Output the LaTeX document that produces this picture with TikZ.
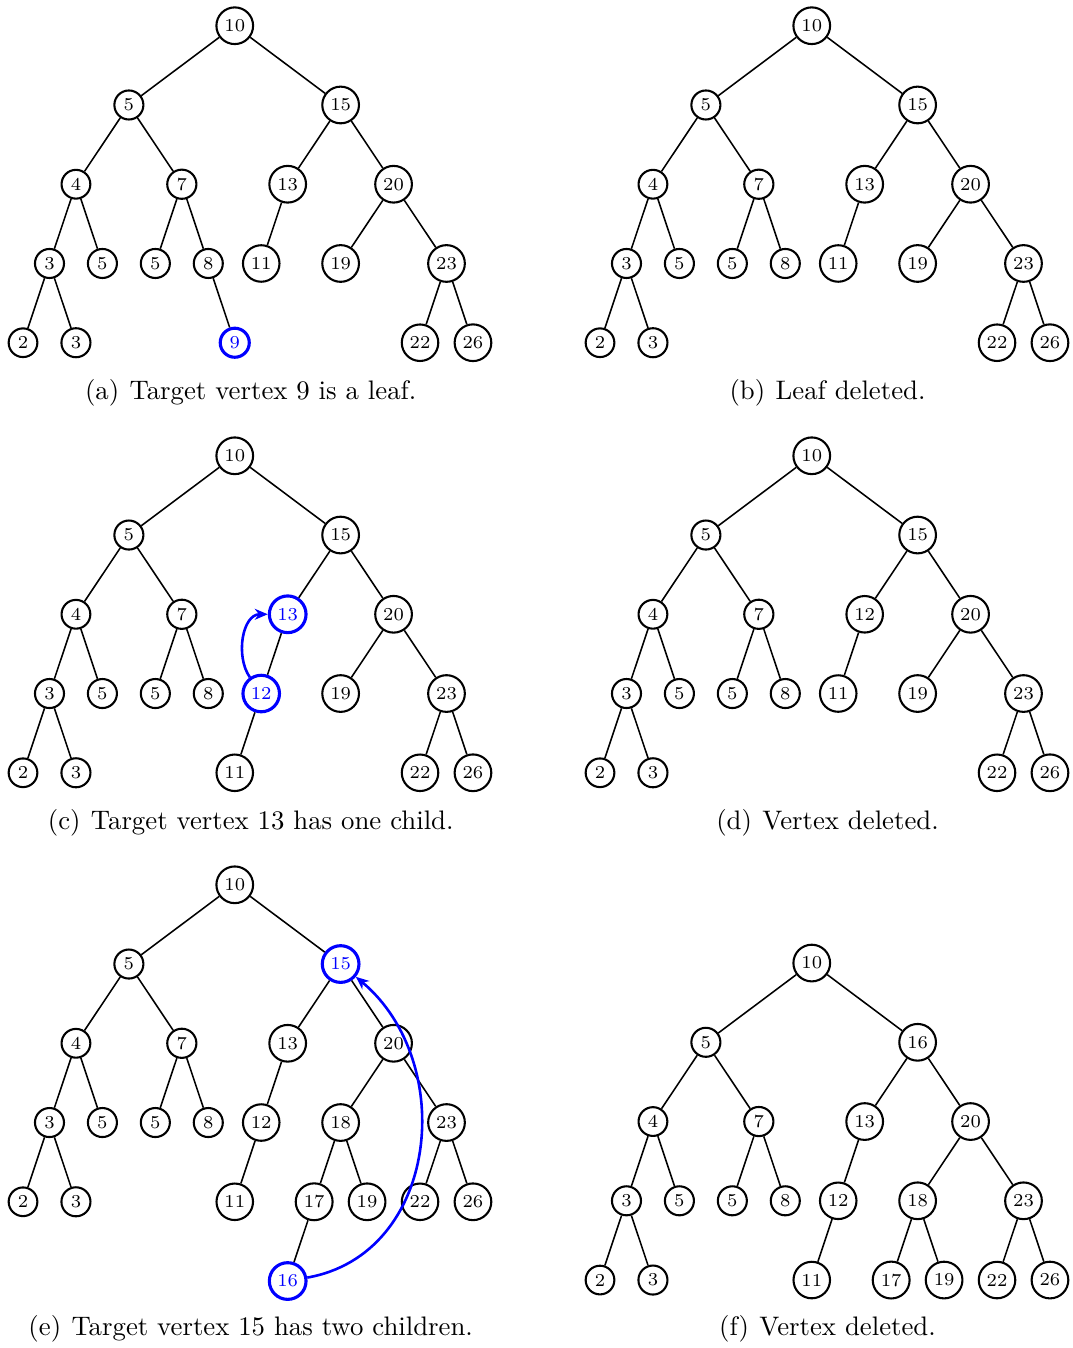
\documentclass[tikz,border=0pt]{standalone}
\usepackage{xcolor}
\usetikzlibrary{arrows.meta}

% root and left half, the same in every panel (#1 = name prefix)
\newcommand{\lefthalf}[1]{%
  \foreach \n/\c/\r/\t in {o/8/0/10, l/4/1/5, ll/2/2/4, lr/6/2/7, lll/1/3/3,
      llr/3/3/5, lrl/5/3/5, lrr/7/3/8, llll/0/4/2, lllr/2/4/3}
    \node[vtx] (#1\n) at (\c,-\r) {\t};
  \foreach \p/\n in {o/l, l/ll, l/lr, ll/lll, ll/llr, lr/lrl, lr/lrr, lll/llll, lll/lllr}
    \draw[link] (#1\p) -- (#1\n);
}

\begin{document}
\begin{tikzpicture}[
  vtx/.style={draw, circle, thick, inner sep=1.75pt, font=\scriptsize},
  hit/.style={vtx, draw=blue, text=blue, very thick},
  link/.style={semithick},
  move/.style={->, draw=blue, line width=1pt},
  capt/.style={anchor=base, font=\fontsize{10.3pt}{12pt}\selectfont},
  tree/.style={x=10.18pt, y=30.48pt},
  >={Stealth[length=5pt, width=4.2pt, inset=1.6pt]}
]
  \useasboundingbox (0,0) rectangle (412.31pt,-518.46pt);

  % (a) target is a leaf
  \begin{scope}[shift={(8.85pt,-9.9pt)}, tree]
    \lefthalf{a}
    \foreach \n/\c/\r/\t in {r/12/1/15, rl/10/2/13, rr/14/2/20, rll/9/3/11,
        rrl/12/3/19, rrr/16/3/23, rrrl/15/4/22, rrrr/17/4/26}
      \node[vtx] (a\n) at (\c,-\r) {\t};
    \node[hit] (alrrr) at (8,-4) {9};
    \foreach \p/\n in {o/r, r/rl, r/rr, rl/rll, rr/rrl, rr/rrr, rrr/rrrl, rrr/rrrr, lrr/lrrr}
      \draw[link] (a\p) -- (a\n);
  \end{scope}

  % (b) leaf removed
  \begin{scope}[shift={(230.77pt,-9.9pt)}, tree]
    \lefthalf{b}
    \foreach \n/\c/\r/\t in {r/12/1/15, rl/10/2/13, rr/14/2/20, rll/9/3/11,
        rrl/12/3/19, rrr/16/3/23, rrrl/15/4/22, rrrr/17/4/26}
      \node[vtx] (b\n) at (\c,-\r) {\t};
    \foreach \p/\n in {o/r, r/rl, r/rr, rl/rll, rr/rrl, rr/rrr, rrr/rrrl, rrr/rrrr}
      \draw[link] (b\p) -- (b\n);
  \end{scope}

  % (c) target with one child
  \begin{scope}[shift={(8.85pt,-175.3pt)}, tree]
    \lefthalf{c}
    \foreach \n/\c/\r/\t in {r/12/1/15, rr/14/2/20, rlll/8/4/11,
        rrl/12/3/19, rrr/16/3/23, rrrl/15/4/22, rrrr/17/4/26}
      \node[vtx] (c\n) at (\c,-\r) {\t};
    \node[hit] (crl) at (10,-2) {13};
    \node[hit] (crll) at (9,-3) {12};
    \foreach \p/\n in {o/r, r/rl, r/rr, rl/rll, rll/rlll, rr/rrl, rr/rrr, rrr/rrrl, rrr/rrrr}
      \draw[link] (c\p) -- (c\n);
    \draw[move] (crll) to[out=125, in=180] (crl);
  \end{scope}

  % (d) child moved up
  \begin{scope}[shift={(230.77pt,-175.3pt)}, tree]
    \lefthalf{d}
    \foreach \n/\c/\r/\t in {r/12/1/15, rl/10/2/12, rr/14/2/20, rll/9/3/11,
        rrl/12/3/19, rrr/16/3/23, rrrl/15/4/22, rrrr/17/4/26}
      \node[vtx] (d\n) at (\c,-\r) {\t};
    \foreach \p/\n in {o/r, r/rl, r/rr, rl/rll, rr/rrl, rr/rrr, rrr/rrrl, rrr/rrrr}
      \draw[link] (d\p) -- (d\n);
  \end{scope}

  % (e) target with two children
  \begin{scope}[shift={(8.85pt,-340.3pt)}, tree]
    \lefthalf{e}
    \foreach \n/\c/\r/\t in {rl/10/2/13, rr/14/2/20, rll/9/3/12, rrl/12/3/18,
        rrr/16/3/23, rlll/8/4/11, rrll/11/4/17, rrlr/13/4/19, rrrl/15/4/22, rrrr/17/4/26}
      \node[vtx] (e\n) at (\c,-\r) {\t};
    \node[hit] (er) at (12,-1) {15};
    \node[hit] (errlll) at (10,-5) {16};
    \foreach \p/\n in {o/r, r/rl, r/rr, rl/rll, rll/rlll, rr/rrl, rr/rrr,
        rrl/rrll, rrl/rrlr, rrll/rrlll, rrr/rrrl, rrr/rrrr}
      \draw[link] (e\p) -- (e\n);
    \draw[move] (errlll) to[out=10, in=-40, looseness=1.12] (er);
  \end{scope}

  % (f) successor in place
  \begin{scope}[shift={(230.77pt,-370.4pt)}, tree]
    \lefthalf{f}
    \foreach \n/\c/\r/\t in {r/12/1/16, rl/10/2/13, rr/14/2/20, rll/9/3/12, rrl/12/3/18,
        rrr/16/3/23, rlll/8/4/11, rrll/11/4/17, rrlr/13/4/19, rrrl/15/4/22, rrrr/17/4/26}
      \node[vtx] (f\n) at (\c,-\r) {\t};
    \foreach \p/\n in {o/r, r/rl, r/rr, rl/rll, rll/rlll, rr/rrl, rr/rrr,
        rrl/rrll, rrl/rrlr, rrr/rrrl, rrr/rrrr}
      \draw[link] (f\p) -- (f\n);
  \end{scope}

  % captions
  \node[capt] (capa) at (96.42pt,-153.8pt) {(a)\hspace{4pt}Target vertex 9 is a leaf.};
  \node[capt] (capb) at (318.27pt,-153.8pt) {(b)\hspace{4pt}Leaf deleted.};
  \node[capt] (capc) at (96.42pt,-319.2pt) {(c)\hspace{4pt}Target vertex 13 has one child.};
  \node[capt] (capd) at (318.27pt,-319.2pt) {(d)\hspace{4pt}Vertex deleted.};
  \node[capt] (cape) at (96.42pt,-513.8pt) {(e)\hspace{4pt}Target vertex 15 has two children.};
  \node[capt] (capf) at (318.27pt,-513.8pt) {(f)\hspace{4pt}Vertex deleted.};
\end{tikzpicture}
\end{document}
